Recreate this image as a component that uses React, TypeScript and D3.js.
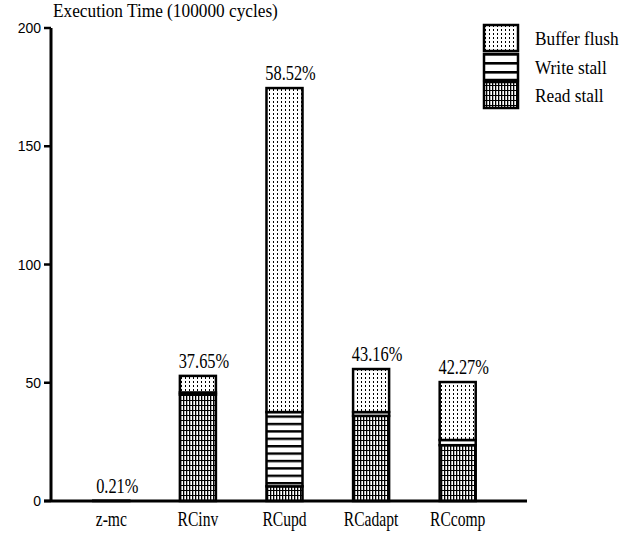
import React from 'react';
import * as d3 from 'd3';

// chart data
const categories = ['z-mc', 'RCinv', 'RCupd', 'RCadapt', 'RCcomp'];
const readStall = [0, 45, 6.2, 36, 23.6];
const writeStall = [0, 0.9, 31.4, 1.6, 2.2];
const bufferFlush = [0.15, 7, 137, 18.2, 24.5];
const percentLabels = ['0.21%', '37.65%', '58.52%', '43.16%', '42.27%'];
const yTicks = [0, 50, 100, 150, 200];
const legendItems = ['Buffer flush', 'Write stall', 'Read stall'];

const serif = "'Liberation Serif', 'Times New Roman', serif";
const sans = "'Liberation Sans', Arial, sans-serif";

const W = 636;
const H = 535;

// condensed serif text, like the tall TeX font of the original
const SText = ({ x, y, anchor = 'middle', size = 20, sx = 0.82, children }: any) => (
  <text
    transform={`translate(${x},${y}) scale(${sx},1)`}
    textAnchor={anchor}
    style={{ fontFamily: serif, fontSize: size }}
    fill="#000"
  >
    {children}
  </text>
);

export default function App() {
  const x = d3
    .scaleBand<string>()
    .domain(categories)
    .range([68, 501])
    .paddingInner(0.584)
    .paddingOuter(0.292);

  const y = d3.scaleLinear().domain([0, 200]).range([501, 28]);

  const bw = x.bandwidth();
  const series = [
    { key: 'read', values: readStall, fill: 'url(#readPat)' },
    { key: 'write', values: writeStall, fill: 'url(#writePat)' },
    { key: 'buffer', values: bufferFlush, fill: 'url(#dotPat)' },
  ];

  const legendFills = ['url(#dotPat)', 'url(#writeLegPat)', 'url(#readPat)'];
  const legendY = [25, 54, 82];

  return (
    <svg width={W} height={H} style={{ position: 'absolute', left: 0, top: 0, background: '#fff' }}>
      <defs>
        <pattern id="dotPat" width={4} height={4} patternUnits="userSpaceOnUse">
          <rect width={4} height={4} fill="#fff" />
          <rect x={1} y={1} width={1} height={2} fill="#000" />
        </pattern>
        <pattern id="writePat" width={7.4} height={7.4} patternUnits="userSpaceOnUse" patternTransform="translate(0,1)">
          <rect width={7.4} height={7.4} fill="#fff" />
          <rect y={0} width={7.4} height={2.4} fill="#000" />
        </pattern>
        <pattern id="writeLegPat" width={9} height={9} patternUnits="userSpaceOnUse" patternTransform="translate(0,8)">
          <rect width={9} height={9} fill="#fff" />
          <rect y={0} width={9} height={2.6} fill="#000" />
        </pattern>
        <pattern id="readPat" width={3} height={5} patternUnits="userSpaceOnUse">
          <rect width={3} height={5} fill="#fff" />
          <rect x={0} y={0} width={1.3} height={5} fill="#000" />
          <rect x={0} y={0} width={3} height={1} fill="#000" />
        </pattern>
      </defs>

      {/* bars */}
      {categories.map((c, i) => {
        let acc = 0;
        return (
          <g key={c}>
            {series.map((s) => {
              const v = s.values[i];
              const y0 = y(acc);
              acc += v;
              const y1 = y(acc);
              if (v <= 0) return null;
              return (
                <rect
                  key={s.key}
                  x={x(c)}
                  y={y1}
                  width={bw}
                  height={y0 - y1}
                  fill={s.fill}
                  stroke="#000"
                  strokeWidth={2.5}
                />
              );
            })}
          </g>
        );
      })}

      {/* percent labels */}
      {categories.map((c, i) => {
        const total = readStall[i] + writeStall[i] + bufferFlush[i];
        return (
          <SText key={c} x={(x(c) as number) + bw / 2 + 6} y={y(total) - 8}>
            {percentLabels[i]}
          </SText>
        );
      })}

      {/* axes */}
      <line x1={51} x2={51} y1={y(200)} y2={y(0)} stroke="#000" strokeWidth={3} />
      <line x1={44} x2={527} y1={y(0)} y2={y(0)} stroke="#000" strokeWidth={3} />
      {yTicks.map((t) => (
        <g key={t}>
          <line x1={44} x2={51} y1={y(t)} y2={y(t)} stroke="#000" strokeWidth={2.5} />
          <text
            x={41}
            y={y(t)}
            dy="0.36em"
            textAnchor="end"
            style={{ fontFamily: sans, fontSize: 14 }}
            fill="#000"
          >
            {t}
          </text>
        </g>
      ))}

      {categories.map((c) => (
        <SText key={c} x={(x(c) as number) + bw / 2} y={526} sx={0.78}>
          {c}
        </SText>
      ))}

      <SText x={53} y={17} anchor="start" size={18} sx={0.96}>
        Execution Time (100000 cycles)
      </SText>

      {/* legend */}
      {legendItems.map((name, i) => (
        <g key={name}>
          <rect
            x={484}
            y={legendY[i]}
            width={34}
            height={26}
            fill={legendFills[i]}
            stroke="#000"
            strokeWidth={2.5}
          />
          <SText x={535} y={legendY[i] + 20} anchor="start" size={18} sx={0.96}>
            {name}
          </SText>
        </g>
      ))}
    </svg>
  );
}
